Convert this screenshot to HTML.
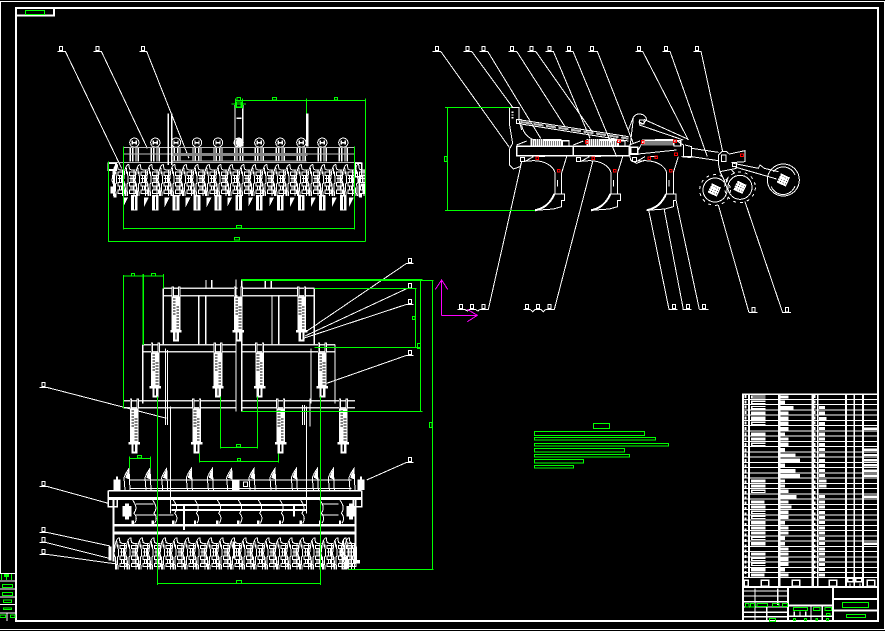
<!DOCTYPE html>
<html><head><meta charset="utf-8"><style>html,body{margin:0;padding:0;background:#000}svg{display:block}</style></head><body>
<svg xmlns="http://www.w3.org/2000/svg" width="885" height="631" viewBox="0 0 885 631" shape-rendering="crispEdges" fill="none">
<defs>
<rect id="lb" x="-4" y="-15" width="9" height="13" stroke="#fff" stroke-width="3"/>
<g id="cell" stroke="#fff" stroke-width="3">
<path d="M4,96V60L0,50L4,20C6,8 12,0 16,2L18,15L24,18H36M12,22L14,56L10,60L12,96M32,18V96M18,24H36V34H18ZM18,44H36M18,56H36V66H18ZM18,78H36V88H18ZM22,34V56M28,34V56M22,66V78M28,66V78M8,10L10,30M6,70L8,96"/>
</g>
<g id="cells"><use href="#cell"/><use href="#cell" x="34.5"/><use href="#cell" x="69"/><use href="#cell" x="103.5"/><use href="#cell" x="138"/><use href="#cell" x="172.5"/><use href="#cell" x="207"/></g>
<g id="row"><use href="#cells"/><use href="#cells" x="241.5"/><use href="#cells" x="483"/></g>
<g id="top1"><circle cx="0" cy="-12" r="14" stroke="#fff" stroke-width="3"/><path d="M-6,-18V-6M6,-18V-6M-6,-12H6M-12,4V45M12,4V45M-5,4V45M5,4V45" stroke="#fff" stroke-width="4"/>
<path d="M0,145V192" stroke="#fff" stroke-width="20"/><path d="M0,150V188" stroke="#000" stroke-width="3"/></g>
<g id="shard"><path d="M0,0H14L0,28Z" fill="#fff"/></g>
<g id="shank" stroke="#fff" stroke-width="3">
<path d="M300,395L340,392C375,392 400,408 405,428V490C395,515 375,535 345,541L400,537L425,530V512H433V492H405M425,492V428L440,380M412,450V470" />
<path d="M345,541C375,535 392,518 403,492" stroke-width="6"/>
<rect x="302" y="382" width="12" height="12"/>
<path d="M314,395L340,380M355,380H375"/>
</g>
<g id="hatch"><path d="M332,337H425" stroke="#fff" stroke-width="20" stroke-dasharray="4 2"/><path d="M372,330H425" stroke="#fff" stroke-width="7"/><rect x="427" y="332" width="20" height="16" stroke="#fff" stroke-width="4"/></g>
<g id="sp">
<path d="M-10,0V30M10,0V30" stroke="#fff" stroke-width="7"/><path d="M-10,3V30M10,3V30" stroke="#000" stroke-width="1.5"/>
<rect x="-13" y="30" width="26" height="100" fill="#fff"/>
<path d="M-5,36V85" stroke="#000" stroke-width="8" stroke-dasharray="3 6"/><path d="M5,60V128" stroke="#000" stroke-width="8" stroke-dasharray="3 6"/>
<rect x="-17" y="130" width="34" height="7" fill="#fff"/><rect x="-9" y="137" width="18" height="28" fill="#fff"/><path d="M0,137V158" stroke="#000" stroke-width="4"/>
</g>
<g id="tine"><path d="M-10,65L-13,28C-8,14 -2,6 2,0L5,65" stroke="#fff" stroke-width="3"/><path d="M-9,28C-6,16 -1,8 2,3L4,34Z" fill="#fff"/></g>
<g id="disc"><path d="M0,0C10,15 14,25 4,40C14,50 12,60 6,70" stroke="#fff" stroke-width="3"/><path d="M0,62V72" stroke="#fff" stroke-width="7"/></g>
<g id="blob"><rect x="-15" y="-15" width="30" height="30" fill="#fff" transform="rotate(25)"/><path d="M-15,-8H15M-15,0H15M-15,8H15" stroke="#000" stroke-width="2" stroke-dasharray="3 5" transform="rotate(25)"/></g>
<rect id="rd" x="-4" y="-4" width="8" height="8" stroke="#f00" stroke-width="3"/>
</defs>
<rect width="885" height="631" fill="#000"/>

<!-- frames -->
<path d="M0,1.5H885M0,629.5H885M884.5,1V630M0.5,1V573" stroke="#fff"/>
<path d="M16,8H878V621H16ZM16,15.5H54V8" stroke="#fff" stroke-width="2"/>
<rect x="25.5" y="10.5" width="19" height="4" stroke="#0f0"/>
<!-- left bottom box -->
<path d="M0,573.5H15M0,581H15M0,589H15M0,597H15M0,604.5H15M0,613H15" stroke="#fff" stroke-width="1.4"/>
<path d="M7,613V621" stroke="#fff"/>
<path d="M1.5,574V580M6.5,574V580M11.5,574V580" stroke="#0f0"/>
<path d="M5,574V577M8,574V577" stroke="#0f0" stroke-width="2"/>
<path d="M2.5,584.5H12.5V587.5H2.5ZM2.5,592.5H12.5V595.5H2.5ZM3.5,600H11.5V602.5H3.5ZM3.5,608H11.5V609.5H3.5ZM0,615H5.5V617.5H0ZM10.5,615H15V617.5H10.5Z" stroke="#0f0"/>

<!-- TOP LEFT VIEW -->
<g transform="translate(40,30) scale(.33333)">
<use href="#lb" x="62" y="64"/><use href="#lb" x="172" y="64"/><use href="#lb" x="308" y="64"/>
<path d="M52,64H76L245,415M160,64H184L322,355M298,64H320L447,385" stroke="#fff" stroke-width="3"/>
<g id="tops"><use href="#top1" x="283" y="350"/><use href="#top1" x="346" y="350"/><use href="#top1" x="408" y="350"/><use href="#top1" x="471" y="350"/><use href="#top1" x="534" y="350"/><use href="#top1" x="596" y="350"/><use href="#top1" x="658" y="350"/><use href="#top1" x="721" y="350"/><use href="#top1" x="784" y="350"/><use href="#top1" x="847" y="350"/><use href="#top1" x="910" y="350"/></g>
<path d="M250,352H944M250,372H944M205,397H965M397,393H800" stroke="#bbb" stroke-width="3"/>
<path d="M396,373H802" stroke="#888" stroke-width="9"/>
<path d="M385,250V405M395,250V405M585,225V350M608,225V350M590,265H605M802,250V350" stroke="#fff" stroke-width="4"/>
<path d="M802,250V350" stroke="#fff" stroke-width="8"/>
<path d="M590,325H606V350H590Z" fill="#fff"/>
<use href="#row" x="216" y="402"/>
<use href="#cell" x="940" y="402"/>
<path d="M205,400H228V420H205ZM945,400H965V440H945ZM222,420V495M958,440V500" stroke="#fff" stroke-width="5"/>
<path d="M216,470V490M225,490V503M962,465H972V490M962,490V503" stroke="#fff" stroke-width="9"/>
<use href="#shard" x="250" y="503"/><use href="#shard" x="312" y="503"/><use href="#shard" x="374" y="503"/><use href="#shard" x="437" y="503"/><use href="#shard" x="500" y="503"/><use href="#shard" x="562" y="503"/><use href="#shard" x="625" y="503"/><use href="#shard" x="688" y="503"/><use href="#shard" x="750" y="503"/><use href="#shard" x="813" y="503"/><use href="#shard" x="876" y="503"/><use href="#shard" x="927" y="503"/>
<g stroke="#0f0" stroke-width="3">
<path d="M205,395V635H976M976,205V635M586,211H976M250,350V598M250,595H943M943,350V598M799,205V250M586,205V235M607,205V235M574,222H618" />
<path d="M589,216H604V232H589Z" stroke-width="4"/>
<rect x="591" y="203" width="11" height="8"/><rect x="697" y="203" width="12" height="7"/><rect x="883" y="203" width="10" height="7"/><rect x="590" y="587" width="15" height="7"/><rect x="584" y="623" width="15" height="7"/>
</g>
</g>

<!-- SIDE VIEW -->
<g transform="translate(420,30) scale(.33333)">
<g stroke="#fff" stroke-width="3">
<path d="M38,64H62L268,352M130,64H155L278,232M178,64H203L362,325M265,64H290L435,290M322,64H347L520,310M376,64H400L510,325M436,64H459L590,380M505,64H532L640,340M646,64H668L805,330M728,64H750L862,380M820,64H843L908,365"/>
<path d="M112,838H134L142,843L148,838H166L174,843L180,838H205L305,395M310,838H330L338,845L346,838H362L370,845L378,838H403L518,395M747,838L686,540H682M790,838L732,535M838,838L768,510M987,848L895,525M1088,848L975,515"/>
<path d="M745,838H772M788,838H815M838,838H866M987,848H1013M1088,848H1113"/>
</g>
<use href="#lb" x="50" y="64"/><use href="#lb" x="142" y="64"/><use href="#lb" x="190" y="64"/><use href="#lb" x="276" y="64"/><use href="#lb" x="334" y="64"/><use href="#lb" x="388" y="64"/><use href="#lb" x="447" y="64"/><use href="#lb" x="516" y="64"/><use href="#lb" x="657" y="64"/><use href="#lb" x="738" y="64"/><use href="#lb" x="831" y="64"/>
<use href="#lb" x="123" y="838"/><use href="#lb" x="155" y="838"/><use href="#lb" x="190" y="838"/><use href="#lb" x="321" y="838"/><use href="#lb" x="353" y="838"/><use href="#lb" x="388" y="838"/><use href="#lb" x="762" y="838"/><use href="#lb" x="804" y="838"/><use href="#lb" x="852" y="838"/><use href="#lb" x="1000" y="848"/><use href="#lb" x="1101" y="848"/>

<g stroke="#fff" stroke-width="3">
<path d="M268,232H297V270L305,300M268,232V280L278,340L268,358V405L280,417L300,410L305,395M305,285C310,310 325,325 345,330"/>
<path d="M278,245V265" stroke-width="6" stroke-dasharray="4 4"/>
<rect x="290" y="268" width="13" height="12"/>
<path d="M303,270L626,320M303,282L626,333"/>
</g>
<path d="M303,276L626,326" stroke="#bbb" stroke-width="6" stroke-dasharray="30 8"/>
<rect x="290" y="349" width="170" height="28" stroke="#fff" stroke-width="4"/><rect x="460" y="349" width="168" height="28" stroke="#fff" stroke-width="4"/>
<path d="M290,345L320,333M460,345L490,333M628,345L660,333" stroke="#fff" stroke-width="3"/>
<use href="#hatch"/><use href="#hatch" x="168"/><use href="#hatch" x="335"/>
<use href="#shank"/><use href="#shank" x="168"/><use href="#shank" x="335"/>
<g stroke="#fff" stroke-width="3">
<path d="M625,300L640,262C650,246 675,250 680,268L670,282L655,275M672,268L805,328M658,285L790,330M640,265L628,370L632,390L650,400L675,390M655,360L670,332H780"/>
<rect x="658" y="270" width="14" height="12" />
<path d="M655,372L770,360M770,332L790,345V380H815V350L795,345"/>
<path d="M815,355L895,367M815,380L895,392M785,380L815,383"/>
<path d="M895,375L905,365H920L928,372L975,362V395L935,398M895,375V400L900,425L950,415M905,375H918V395H905Z"/>
<path d="M940,400L1015,415L1020,405L1033,415L1075,425M945,411L1070,447"/>
<rect x="938" y="397" width="12" height="12"/>
<circle cx="885" cy="480" r="36"/><circle cx="960" cy="472" r="36"/>
<circle cx="885" cy="480" r="46" stroke-dasharray="9 12"/><circle cx="960" cy="472" r="46" stroke-dasharray="9 12"/>
<circle cx="1090" cy="450" r="48"/><path d="M1054,470A38,38 0 0 0 1125,468M1060,425A38,38 0 0 1 1125,435"/>
<path d="M900,425L915,455M935,420L945,430M915,465L925,440"/>
</g>
<rect x="632" y="352" width="21" height="20" stroke="#fff" stroke-width="5"/>
<use href="#blob" x="883" y="480"/><use href="#blob" x="960" y="472"/><use href="#blob" x="1090" y="450"/>
<use href="#rd" x="352" y="385"/><use href="#rd" x="416" y="422"/><use href="#rd" x="500" y="336"/><use href="#rd" x="520" y="385"/><use href="#rd" x="584" y="422"/><use href="#rd" x="597" y="334"/><use href="#rd" x="668" y="336"/><use href="#rd" x="765" y="334"/><use href="#rd" x="768" y="373"/><use href="#rd" x="688" y="385"/><use href="#rd" x="709" y="382"/><use href="#rd" x="752" y="422"/><use href="#rd" x="966" y="376"/>
<path d="M75,232H275M75,541H345M82,232V541" stroke="#0f0" stroke-width="3"/>
<rect x="73" y="380" width="8" height="14" stroke="#0f0" stroke-width="3"/>
<path d="M65,856V750M46,778L65,750L83,778M65,856H172M142,838L172,856L142,875" stroke="#f0f" stroke-width="3"/>
</g>

<!-- PLAN VIEW -->
<g transform="translate(30,250) scale(.33333)">
<g stroke="#ddd" stroke-width="4">
<path d="M400,115H622M633,115H853M400,137H622M633,137H853M338,284H620M633,284H915M338,305H620M633,305H915M280,452H620M633,452H975M280,473H620M633,473H975"/>
</g>
<path d="M400,115V284M853,115V284M338,284V460M915,284V460M506,137V284M527,137V284M726,137V284M746,137V284M528,90V115M545,90V115M706,90V115M724,90V115M618,88V485M635,88V485M843,295V460" stroke="#fff" stroke-width="4"/>
<path d="M407,295V525M413,300V525M636,305V460M818,465V525M824,465V525M422,470V790M830,470V790M840,445V530" stroke="#fff" stroke-width="3"/>
<use href="#sp" x="438" y="110"/><use href="#sp" x="625" y="110"/><use href="#sp" x="815" y="110"/>
<use href="#sp" x="376" y="278"/><use href="#sp" x="564" y="278"/><use href="#sp" x="689" y="278"/><use href="#sp" x="877" y="278"/>
<use href="#sp" x="313" y="446"/><use href="#sp" x="500" y="446"/><use href="#sp" x="752" y="446"/><use href="#sp" x="940" y="446"/>
<g stroke="#fff" stroke-width="3">
<path d="M1150,40H1130L828,245M1150,116H1130L825,258M1150,163H1130L820,265M1150,316H1130L890,400M28,412H50L410,505"/>
<path d="M1150,637H1130L1010,690M28,709H50L235,760M28,847H50L240,888M28,878H50L238,925M28,913H50L260,942"/>
</g>
<use href="#lb" x="1140" y="40"/><use href="#lb" x="1140" y="116"/><use href="#lb" x="1140" y="163"/><use href="#lb" x="1140" y="316"/><use href="#lb" x="40" y="412"/><use href="#lb" x="1140" y="637"/><use href="#lb" x="40" y="709"/><use href="#lb" x="40" y="847"/><use href="#lb" x="40" y="878"/><use href="#lb" x="40" y="913"/>
<g transform="translate(0,510)">
<use href="#tine" x="295" y="145"/><use href="#tine" x="358" y="145"/><use href="#tine" x="408" y="145"/><use href="#tine" x="482" y="145"/><use href="#tine" x="545" y="145"/><use href="#tine" x="603" y="145"/><use href="#tine" x="670" y="145"/><use href="#tine" x="733" y="145"/><use href="#tine" x="797" y="145"/><use href="#tine" x="860" y="145"/><use href="#tine" x="908" y="145"/><use href="#tine" x="970" y="145"/>
<path d="M298,180H965M298,205H965" stroke="#fff" stroke-width="3"/>
<rect x="250" y="178" width="22" height="32" fill="#fff"/><rect x="258" y="170" width="6" height="40" fill="#fff"/>
<rect x="982" y="178" width="22" height="32" fill="#fff"/><rect x="990" y="170" width="6" height="40" fill="#fff"/>
<rect x="608" y="178" width="20" height="32" fill="#fff"/><rect x="640" y="186" width="13" height="13" stroke="#fff" stroke-width="3"/>
<path d="M235,212H995M235,212V260H262V240M995,212V260H970V240" stroke="#fff" stroke-width="5"/>
<path d="M235,236H995" stroke="#fff" stroke-width="9"/>
<path d="M425,255H830M425,270H830M462,255V330M792,255V290" stroke="#fff" stroke-width="5"/>
<use href="#disc" x="308" y="240"/><use href="#disc" x="368" y="240"/><use href="#disc" x="430" y="240"/><use href="#disc" x="495" y="240"/><use href="#disc" x="562" y="240"/><use href="#disc" x="625" y="240"/><use href="#disc" x="685" y="240"/><use href="#disc" x="750" y="240"/><use href="#disc" x="812" y="240"/><use href="#disc" x="870" y="240"/><use href="#disc" x="930" y="240"/>
<path d="M318,252H370M318,285H380M385,285H430M875,252H925M875,285H925" stroke="#fff" stroke-width="3"/>
<rect x="278" y="258" width="26" height="32" fill="#fff"/><rect x="285" y="250" width="12" height="48" fill="#fff"/>
<rect x="950" y="258" width="26" height="32" fill="#fff"/><rect x="957" y="250" width="12" height="48" fill="#fff"/>
<path d="M250,232V425M976,232V425" stroke="#fff" stroke-width="6"/>
<path d="M250,316H976M250,339H976" stroke="#fff" stroke-width="8"/>
<use href="#row" x="252" y="352"/><use href="#cell" x="932" y="352"/>
<path d="M240,380V422M976,380V425M972,425H990M952,420V445" stroke="#fff" stroke-width="10"/>
<path d="M612,365V415" stroke="#fff" stroke-width="6"/>
</g>
<g stroke="#0f0" stroke-width="3">
<path d="M280,75V475M280,78H400M400,72V115M1172,90V485M635,484H1178M853,115H1160M1157,115V292M853,292H1170M1150,92H1210M1207,90V958M955,958H1210M382,440V1005M871,440V1005M571,440V595M682,440V595M571,592H682M508,610V637M746,610V637M508,634H746M298,625H361M298,620V655M361,620V655M382,1000H871"/>
<path d="M635,90H1178M340,72V285" stroke-width="5"/>
<rect x="304" y="70" width="10" height="8"/><rect x="364" y="70" width="12" height="8"/><rect x="1162" y="280" width="9" height="16"/><rect x="1147" y="199" width="8" height="10"/><rect x="1198" y="517" width="8" height="16"/><rect x="619" y="583" width="12" height="8"/><rect x="622" y="625" width="10" height="8"/><rect x="322" y="616" width="12" height="8"/><rect x="619" y="991" width="16" height="9"/>
</g>
</g>

<!-- NOTES -->
<g stroke="#0f0" transform="translate(525,415)">
<rect x="68.500" y="8.500" width="16" height="5" stroke-width="1.4"/>
<rect x="9.500" y="16.500" width="110" height="4" stroke-width="1.2"/>
<rect x="9.500" y="22.500" width="121" height="2.500" stroke-width="1.2"/>
<rect x="9.500" y="28.500" width="134" height="2.500" stroke-width="1.2"/>
<rect x="9.500" y="33.500" width="90" height="3.500" stroke-width="1.2"/>
<rect x="9.500" y="39.500" width="95" height="2.500" stroke-width="1.2"/>
<rect x="9.500" y="44.500" width="49" height="3.500" stroke-width="1.2"/>
<rect x="9.500" y="50.500" width="39" height="2.500" stroke-width="1.2"/>
</g>

<!-- TITLE TABLE -->
<g transform="translate(735,385) scale(.33333)">
<path d="M24,28H428V708H24Z" stroke="#fff" stroke-width="5"/>
<path d="M24,43H428M24,59H428M24,75H428M24,90H428M24,106H428M24,122H428M24,138H428M24,153H428M24,169H428M24,185H428M24,201H428M24,216H428M24,232H428M24,248H428M24,264H428M24,279H428M24,295H428M24,311H428M24,327H428M24,342H428M24,358H428M24,374H428M24,390H428M24,405H428M24,421H428M24,437H428M24,453H428M24,468H428M24,484H428M24,500H428M24,516H428M24,531H428M24,547H428M24,563H428" stroke="#fff" stroke-width="3"/>
<path d="M42,28V578M133,28V578M233,28V605M248,28V605M333,28V605M358,28V605M384,28V605" stroke="#fff" stroke-width="5"/>
<path d="M133,28V605M233,28V605" stroke="#fff" stroke-width="7"/>
<path d="M32,30V578" stroke="#fff" stroke-width="6" stroke-dasharray="9 7"/>
<path d="M238,30V578" stroke="#fff" stroke-width="7" stroke-dasharray="9 7"/>
<path d="M48,36H92M48,52H92M48,68H92M48,84H92M48,100H92M48,115H92M48,147H92M48,162H92M48,178H92M48,288H92M48,303H92M48,319H92M48,351H88M48,366H92M48,382H92M48,397H92M48,413H92M48,429H92M48,444H92M48,460H92M48,476H92M48,507H92M48,523H92M48,538H92M48,554H92M48,570H88" stroke="#fff" stroke-width="10"/>
<path d="M52,36H92M52,52H92M52,68H92M52,115H92M52,178H92M52,319H88M52,382H92M52,397H92M52,460H92M52,523H92M52,538H92" stroke="#000" stroke-width="3"/>
<path d="M136,36H160M136,52H150M136,68H175M136,84H160M136,100H160M136,115H160M136,131H160M136,147H150M136,162H160M136,178H160M136,194H150M136,210H182M136,226H195M136,241H150M136,257H182M136,272H195M136,288H150M136,303H150M136,319H160M136,335H185M136,351H160M136,366H170M136,382H160M136,397H160M136,413H150M136,429H160M136,444H160M136,460H150M136,476H150M136,492H160M136,507H160M136,523H160M136,538H160M136,554H150M136,570H160" stroke="#fff" stroke-width="10"/>
<path d="M252,68H270M252,84H270M252,100H275M252,115H270M252,131H270M252,147H270M252,162H270M252,178H270M252,194H270M252,210H270M252,226H270M252,241H270M252,257H270M252,272H270M252,288H275M252,303H275M252,335H270M252,351H270M252,366H270M252,382H270M252,397H270M252,413H270M252,429H270M252,444H270M252,460H270M252,476H270M252,492H270M252,507H270M252,523H270M252,538H270M252,554H270M252,570H270" stroke="#fff" stroke-width="9"/>
<path d="M387,131H426M387,194H426M387,210H426M387,226H426M387,241H426M387,257H426M387,272H426M387,335H426M387,476H426" stroke="#fff" stroke-width="7"/>
<path d="M24,578H428" stroke="#fff" stroke-width="3"/><path d="M24,606H428" stroke="#fff" stroke-width="7"/>
<rect x="28" y="586" width="12" height="17" stroke="#fff" stroke-width="4"/><rect x="79" y="586" width="22" height="17" stroke="#fff" stroke-width="4"/><rect x="172" y="586" width="22" height="17" stroke="#fff" stroke-width="4"/><rect x="283" y="586" width="22" height="17" stroke="#fff" stroke-width="4"/><rect x="397" y="586" width="22" height="17" stroke="#fff" stroke-width="4"/>
<path d="M338,580H355V590H338ZM362,580H380V590H362ZM345,595V605M375,595V605" stroke="#fff" stroke-width="4"/>
<path d="M24,618H158M24,633H158M24,650H158M24,666H158M24,682H158M24,695H158M60,610V705M95,666V705M128,610V660" stroke="#fff" stroke-width="4"/>
<path d="M159,606V708M294,606V708" stroke="#fff" stroke-width="7"/>
<path d="M159,661H294M294,642H428M294,676H428" stroke="#fff" stroke-width="6"/>
<path d="M178,680V694M195,680V694M212,680V694M228,661V708M262,661V708M159,694H294" stroke="#fff" stroke-width="4"/>
<g stroke="#0f0" stroke-width="3">
<rect x="322" y="652" width="79" height="16"/><rect x="335" y="688" width="57" height="10"/><rect x="175" y="667" width="43" height="10"/><rect x="235" y="667" width="20" height="10"/><rect x="270" y="667" width="20" height="10"/><rect x="275" y="685" width="10" height="7"/>
<rect x="175" y="700" width="6" height="6"/><rect x="208" y="700" width="6" height="6"/><rect x="243" y="700" width="4" height="6"/><rect x="274" y="700" width="6" height="6"/>
<rect x="31" y="655" width="11" height="11"/><rect x="46" y="655" width="12" height="11"/><rect x="66" y="655" width="32" height="10"/><rect x="112" y="655" width="20" height="10"/><rect x="142" y="655" width="16" height="10"/><rect x="103" y="700" width="19" height="10"/>
</g>
</g>
</svg>
</body></html>
